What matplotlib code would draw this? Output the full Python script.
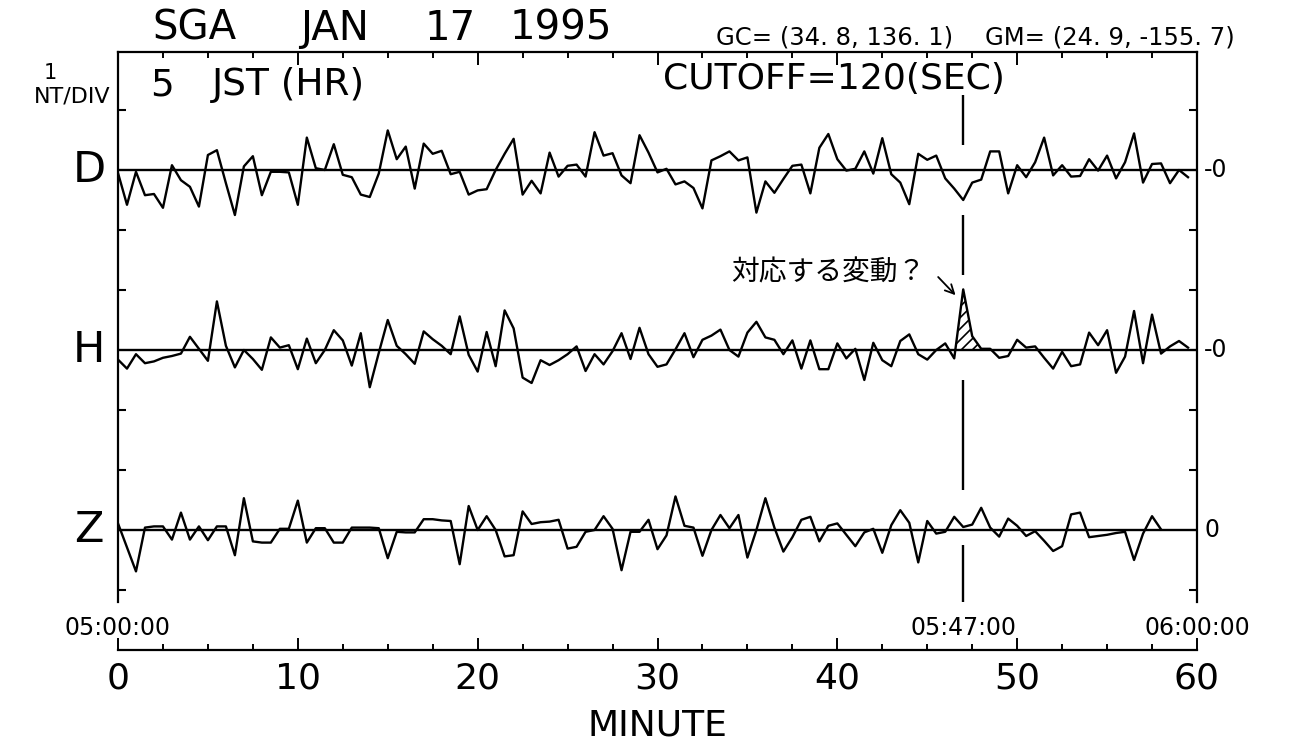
import matplotlib
matplotlib.use('Agg')
import matplotlib.pyplot as plt
import numpy as np
from matplotlib.ticker import MultipleLocator, NullFormatter

# 30 s samples, nT deviation from each baseline
d_minute = np.arange(0, 60, 0.5)
d_vals = [-0.05, -0.58, -0.03, -0.42, -0.40, -0.63, 0.08, -0.17, -0.28, -0.61,
          0.25, 0.33, -0.22, -0.75, 0.06, 0.23, -0.42, -0.03, -0.03, -0.04,
          -0.58, 0.54, 0.03, 0.00, 0.43, -0.08, -0.12, -0.41, -0.45, -0.06,
          0.66, 0.18, 0.39, -0.31, 0.44, 0.27, 0.32, -0.07, -0.03, -0.41,
          -0.34, -0.32, 0.00, 0.27, 0.52, -0.41, -0.18, -0.39, 0.29, -0.11,
          0.07, 0.09, -0.11, 0.63, 0.24, 0.28, -0.09, -0.22, 0.58, 0.29,
          -0.04, 0.02, -0.24, -0.19, -0.30, -0.64, 0.16, 0.23, 0.31, 0.16,
          0.21, -0.71, -0.19, -0.38, -0.15, 0.07, 0.09, -0.39, 0.37, 0.60,
          0.18, -0.01, 0.02, 0.31, -0.06, 0.53, -0.07, -0.21, -0.57, 0.27,
          0.17, 0.24, -0.14, -0.31, -0.50, -0.21, -0.16, 0.31, 0.31, -0.39,
          0.08, -0.12, 0.13, 0.54, -0.09, 0.08, -0.11, -0.10, 0.18, -0.01,
          0.24, -0.14, 0.13, 0.61, -0.21, 0.10, 0.11, -0.22, 0.00, -0.12]

h_minute = np.arange(0, 60, 0.5)
h_vals = [-0.16, -0.31, -0.07, -0.22, -0.19, -0.13, -0.10, -0.06, 0.22, 0.02,
          -0.18, 0.81, 0.07, -0.29, 0.00, -0.15, -0.33, 0.21, 0.04, 0.08,
          -0.32, 0.19, -0.22, 0.00, 0.33, 0.16, -0.26, 0.28, -0.62, -0.05,
          0.50, 0.07, -0.07, -0.23, 0.31, 0.18, 0.07, -0.07, 0.56, -0.08,
          -0.36, 0.30, -0.27, 0.66, 0.36, -0.46, -0.55, -0.17, -0.25, -0.17,
          -0.07, 0.06, -0.35, -0.07, -0.24, -0.02, 0.28, -0.15, 0.37, -0.07,
          -0.28, -0.24, 0.01, 0.28, -0.12, 0.17, 0.24, 0.34, 0.00, -0.11,
          0.29, 0.47, 0.21, 0.17, -0.07, 0.16, -0.31, 0.16, -0.32, -0.32,
          0.11, -0.14, 0.02, -0.50, 0.12, -0.17, -0.27, 0.15, 0.26, -0.07,
          -0.16, 0.00, 0.11, -0.14, 1.01, 0.23, 0.02, 0.02, -0.13, -0.10,
          0.17, 0.04, 0.06, -0.13, -0.31, -0.03, -0.27, -0.24, 0.29, 0.08,
          0.33, -0.38, -0.11, 0.65, -0.22, 0.59, -0.06, 0.06, 0.15, 0.04]

z_minute = np.arange(0, 58.5, 0.5)
z_vals = [0.11, -0.29, -0.69, 0.04, 0.06, 0.06, -0.16, 0.29, -0.16, 0.06,
          -0.17, 0.06, 0.06, -0.42, 0.53, -0.19, -0.21, -0.21, 0.02, 0.02,
          0.49, -0.21, 0.03, 0.03, -0.21, -0.21, 0.04, 0.04, 0.04, 0.03,
          -0.47, -0.03, -0.04, -0.04, 0.18, 0.18, 0.16, 0.15, -0.57, 0.40,
          0.00, 0.23, 0.00, -0.44, -0.42, 0.31, 0.10, 0.13, 0.14, 0.17,
          -0.31, -0.28, -0.03, 0.00, 0.23, 0.02, -0.67, -0.03, -0.03, 0.17,
          -0.32, -0.09, 0.56, 0.07, 0.04, -0.43, 0.00, 0.25, 0.03, 0.25,
          -0.46, 0.00, 0.53, 0.04, -0.36, -0.12, 0.17, 0.22, -0.19, 0.07,
          0.11, -0.08, -0.27, -0.04, 0.02, -0.38, 0.08, 0.33, 0.12, -0.54,
          0.15, -0.06, -0.03, 0.22, 0.05, 0.09, 0.37, 0.04, -0.11, 0.19,
          0.07, -0.10, -0.02, -0.18, -0.35, -0.27, 0.26, 0.29, -0.12, -0.10,
          -0.08, -0.05, -0.03, -0.50, -0.06, 0.23, 0.01]

components = ['D', 'H', 'Z']
offsets = [0, -3, -6]          # 3 nT between traces
right_labels = ['-0', '-0', '0']
event_minute = 47
time_labels = {0: '05:00:00', 47: '05:47:00', 60: '06:00:00'}

plt.rcParams['font.family'] = ['DejaVu Sans']
plt.rcParams['hatch.linewidth'] = 1.2
plt.rcParams['hatch.color'] = 'black'

W, H = 1292, 741
fig = plt.figure(figsize=(W / 100, H / 100), dpi=100)
# 60 px per nT; D baseline at y=170 px, frame top at 52 px, x axis at 650 px
ax = fig.add_axes([118 / W, (H - 650) / H, (1197 - 118) / W, 598 / H])
ax.set_xlim(0, 60)
ax.set_ylim(-8, 118 / 60)

lw = 1.7
series = [(d_minute, d_vals), (h_minute, h_vals), (z_minute, z_vals)]
for (xm, vals), off, name, rl in zip(series, offsets, components, right_labels):
    ax.axhline(off, color='black', lw=lw)
    ax.plot(xm, np.array(vals) + off, color='black', lw=lw)
    ax.text(-1.6, off, name, fontsize=31, ha='center', va='center')
    ax.text(60.4, off, rl, fontsize=17, ha='left', va='center', clip_on=False)

# hatched event on H
hx = np.array(h_minute)
hv = np.array(h_vals)
ax.fill_between(hx, offsets[1], hv + offsets[1],
                where=(hx >= 46.5) & (hx <= 48.0) & (hv > 0), interpolate=True,
                facecolor='none', edgecolor='black', hatch='///', linewidth=0)

# broken dashed marker line at 05:47
seg_lo = [0.42, -1.75, -5.33, -7.2]
seg_hi = [1.25, -0.75, -3.5, -6.25]
ax.vlines([event_minute] * len(seg_lo), seg_lo, seg_hi, color='black', lw=lw)

ax.annotate('', xy=(46.68, -2.12), xytext=(45.5, -1.75),
            arrowprops=dict(arrowstyle='->', color='black', lw=1.3, mutation_scale=16))
ax.text(39.5, -1.7, '対応する変動？', fontsize=20, ha='center', va='center',
        family=['Noto Sans CJK JP', 'DejaVu Sans'])

for m, lab in time_labels.items():
    ax.text(m, -7.63, lab, fontsize=17, ha='center', va='center', clip_on=False)

# frame
for s in ax.spines.values():
    s.set_linewidth(1.6)
ax.spines['left'].set_bounds(-7.2, 118 / 60)
ax.spines['right'].set_bounds(-7.2, 118 / 60)

ax.set_xticks(range(0, 61, 10))
ax.xaxis.set_minor_locator(MultipleLocator(2.5))
ax.tick_params(axis='x', which='both', direction='in', top=True, bottom=True,
               width=1.4, labelsize=26, pad=8)
ax.tick_params(axis='x', which='major', length=9)
ax.tick_params(axis='x', which='minor', length=4.5)
ax.set_yticks([1, -1, -2, -4, -5, -7])
ax.yaxis.set_major_formatter(NullFormatter())
ax.tick_params(axis='y', direction='in', left=True, right=True, length=6, width=1.5)
ax.set_xlabel('MINUTE', fontsize=26, labelpad=10)


def put(x, y, s, size):
    fig.text(x / W, 1 - y / H, s, fontsize=size, ha='left', va='center')


# header texts, placed word by word like the plotter output
for x, word in [(152, 'SGA'), (300, 'JAN'), (425, '17'), (510, '1995')]:
    put(x, 29, word, 29)
put(716, 38, 'GC= (34. 8, 136. 1)', 17.5)
put(985, 38, 'GM= (24. 9, -155. 7)', 17.5)
put(150, 85, '5', 27)
put(212, 85, 'JST (HR)', 27)
put(663, 79, 'CUTOFF=120(SEC)', 26)
fig.text(50 / W, 1 - 73 / H, '1', fontsize=15, ha='center', va='center')
fig.text(110 / W, 1 - 97 / H, 'NT/DIV', fontsize=16, ha='right', va='center')

fig.savefig('out.png', dpi=100)
